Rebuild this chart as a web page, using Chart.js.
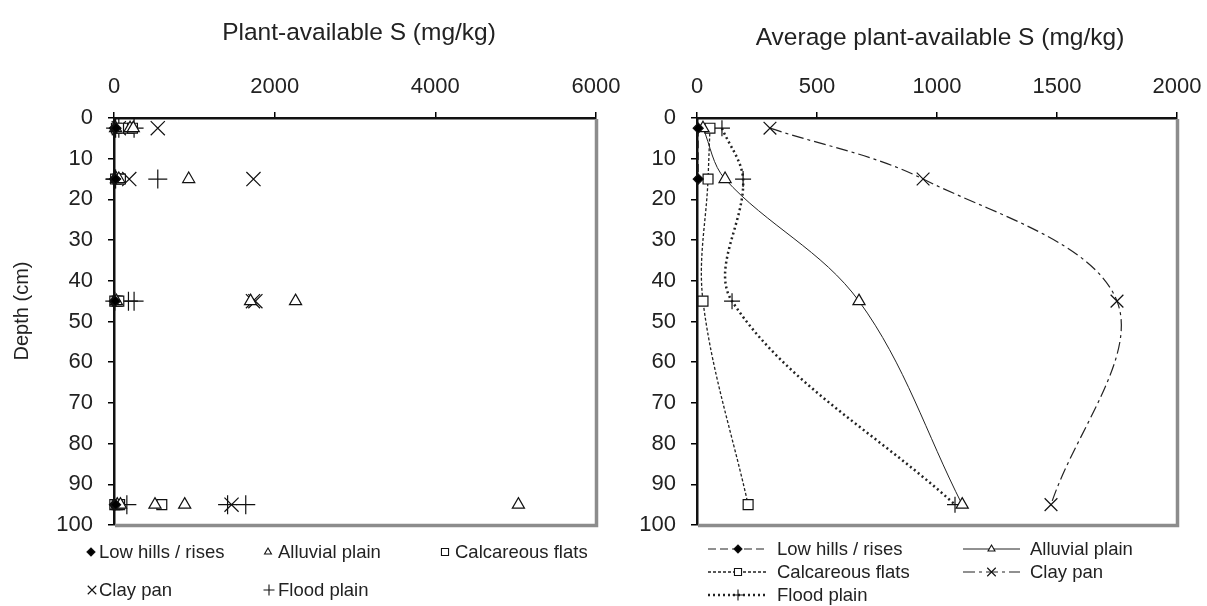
<!DOCTYPE html>
<html>
<head>
<meta charset="utf-8">
<script src="https://cdn.jsdelivr.net/npm/chart.js@4.4.1/dist/chart.umd.min.js"></script>
<style>
  html, body { margin: 0; padding: 0; background: #fff; }
  #wrap { position: relative; width: 1207px; height: 606px; }
  .box { position: absolute; top: 0; height: 606px; }
  #left { left: 0; width: 640px; }
  #right { left: 603px; width: 604px; }
</style>
</head>
<body>
<div id="wrap">
  <div class="box" id="left"><canvas id="samples"></canvas></div>
  <div class="box" id="right"><canvas id="averages"></canvas></div>
</div>
<script>
// sampling depths (cm)
const depths = [2.5, 15, 45, 95];

// individual samples: [depth, S mg/kg]
const lowHillsPts = [[2.5, 5], [2.5, 15], [2.5, 25], [15, 5], [15, 12], [15, 20], [45, 5], [45, 15], [95, 5], [95, 12], [95, 20]];
const alluvialPts = [[2.5, 20], [2.5, 200], [2.5, 240], [15, 30], [15, 60], [15, 930], [45, 30], [45, 1700], [45, 2260], [95, 40], [95, 80], [95, 510], [95, 880], [95, 5034]];
const calcareousPts = [[2.5, 30], [2.5, 80], [2.5, 180], [2.5, 230], [15, 20], [15, 50], [15, 80], [45, 10], [45, 40], [45, 60], [95, 10], [95, 40], [95, 70], [95, 595]];
const clayPanPts = [[2.5, 60], [2.5, 545], [15, 190], [15, 1736], [45, 1760], [45, 1730], [95, 1463]];
const floodPlainPts = [[2.5, 20], [2.5, 60], [2.5, 250], [15, 10], [15, 20], [15, 545], [45, 10], [45, 180], [45, 250], [95, 160], [95, 1414], [95, 1640]];

// averages, one per depth
const lowHillsAvg = [5, 5];
const alluvialAvg = [25, 117, 675, 1105];
const calcareousAvg = [54, 46, 25, 213];
const clayPanAvg = [304, 942, 1750, 1475];
const floodPlainAvg = [104, 192, 146, 1075];

const FONT = "'Liberation Sans', Arial, sans-serif";

const series = [
  { name: 'Low hills / rises', pts: lowHillsPts, avg: lowHillsAvg, style: 'rectRot', r: 5, ar: 5, lr: 4, fill: '#000', dash: [8, 4], lw: 1.2 },
  { name: 'Alluvial plain', pts: alluvialPts, avg: alluvialAvg, style: 'triangle', r: 7, ar: 7, lr: 4, fill: '#fff', dash: [], lw: 1 },
  { name: 'Calcareous flats', pts: calcareousPts, avg: calcareousAvg, style: 'rect', r: 7, ar: 7, lr: 5, fill: '#fff', dash: [3, 2], lw: 1.3 },
  { name: 'Clay pan', pts: clayPanPts, avg: clayPanAvg, style: 'crossRot', r: 10, ar: 9, lr: 6, fill: '#fff', dash: [12, 4, 3, 4], lw: 1.2 },
  { name: 'Flood plain', pts: floodPlainPts, avg: floodPlainAvg, style: 'cross', r: 9.5, ar: 8, lr: 5.5, fill: '#fff', dash: [2, 3], lw: 2.5 }
];

function axes(xMax, xStep, yWidth) {
  const tickFont = { family: FONT, size: 22 };
  const noPad = s => { s.paddingLeft = 0; s.paddingRight = 0; s.paddingTop = 0; s.paddingBottom = 0; };
  return {
    x: {
      type: 'linear', position: 'top', min: 0, max: xMax,
      ticks: { stepSize: xStep, color: '#222', font: tickFont, padding: 12, maxRotation: 0, callback: v => String(v) },
      grid: { drawOnChartArea: false, drawTicks: true, tickLength: 6, color: '#000', lineWidth: 1.5 },
      border: { color: '#111', width: 2.5 },
      afterFit: s => { s.height = 118; noPad(s); }
    },
    y: {
      type: 'linear', reverse: true, min: 0, max: 100,
      ticks: { stepSize: 10, color: '#222', font: tickFont, padding: 15, callback: v => String(v) },
      grid: { drawOnChartArea: false, drawTicks: true, tickLength: 6, color: '#000', lineWidth: 1.5 },
      border: { color: '#111', width: 2.5 },
      afterFit: s => { s.width = yWidth; noPad(s); }
    }
  };
}

function marker(ctx, s, x, y, r) {
  ctx.save();
  ctx.setLineDash([]);
  ctx.fillStyle = s.fill;
  ctx.strokeStyle = '#111';
  ctx.lineWidth = 1.1;
  Chart.helpers.drawPoint(ctx, { pointStyle: s.style, radius: r, rotation: 0, borderWidth: 1.1 }, x, y);
  ctx.restore();
}

// gray right/bottom frame, titles and the hand-placed legends
const decor = {
  id: 'decor',
  afterDraw(chart, args, o) {
    const { ctx, chartArea: a } = chart;
    ctx.save();
    ctx.strokeStyle = '#8c8c8c';
    ctx.lineWidth = 3.5;
    ctx.beginPath();
    ctx.moveTo(a.left + 1, a.bottom + 0.5);
    ctx.lineTo(a.right + 0.5, a.bottom + 0.5);
    ctx.lineTo(a.right + 0.5, a.top + 1);
    ctx.stroke();

    ctx.fillStyle = '#222';
    ctx.textAlign = 'center';
    ctx.textBaseline = 'middle';
    ctx.font = '24.5px ' + FONT;
    ctx.fillText(o.title, o.titleX, o.titleY);
    if (o.yTitle) {
      ctx.save();
      ctx.font = '20px ' + FONT;
      ctx.translate(22, 311);
      ctx.rotate(-Math.PI / 2);
      ctx.fillText(o.yTitle, 0, 0);
      ctx.restore();
    }

    ctx.font = '18.5px ' + FONT;
    ctx.textAlign = 'left';
    o.items.forEach((it, i) => {
      const s = series[i];
      if (it.x1 !== undefined) {
        ctx.save();
        ctx.strokeStyle = '#222';
        ctx.lineWidth = s.lw;
        ctx.setLineDash(s.dash);
        ctx.beginPath();
        ctx.moveTo(it.x1, it.y);
        ctx.lineTo(it.x2, it.y);
        ctx.stroke();
        ctx.restore();
        marker(ctx, s, (it.x1 + it.x2) / 2, it.y, s.lr);
      } else {
        marker(ctx, s, it.mx, it.y, s.lr);
      }
      ctx.fillStyle = '#222';
      ctx.fillText(s.name, it.tx, it.y + 1);
    });
    ctx.restore();
  }
};

new Chart(document.getElementById('samples'), {
  type: 'scatter',
  data: {
    datasets: series.map(s => ({
      label: s.name,
      data: s.pts.map(p => ({ x: p[1], y: p[0] })),
      pointStyle: s.style, pointRadius: s.r, pointHoverRadius: s.r,
      pointBackgroundColor: s.fill, pointBorderColor: '#111', pointBorderWidth: 1.2,
      clip: false
    }))
  },
  options: {
    responsive: true, maintainAspectRatio: false, animation: false,
    layout: { padding: { left: 0, right: 44, top: 0, bottom: 81 } },
    scales: axes(6000, 2000, 114),
    plugins: {
      legend: { display: false }, tooltip: { enabled: false },
      decor: {
        title: 'Plant-available S (mg/kg)', titleX: 359, titleY: 33, yTitle: 'Depth (cm)',
        items: [
          { mx: 91, tx: 99, y: 552 },
          { mx: 268, tx: 278, y: 552 },
          { mx: 445, tx: 455, y: 552 },
          { mx: 92, tx: 99, y: 590 },
          { mx: 269, tx: 278, y: 590 }
        ]
      }
    }
  },
  plugins: [decor]
});

new Chart(document.getElementById('averages'), {
  type: 'scatter',
  data: {
    datasets: series.map(s => ({
      label: s.name,
      data: s.avg.map((v, i) => ({ x: v, y: depths[i] })),
      showLine: true, tension: 0.35,
      borderColor: '#222', borderWidth: s.lw, borderDash: s.dash,
      pointStyle: s.style, pointRadius: s.ar, pointHoverRadius: s.ar,
      pointBackgroundColor: s.fill, pointBorderColor: '#111', pointBorderWidth: 1.2,
      clip: false
    }))
  },
  options: {
    responsive: true, maintainAspectRatio: false, animation: false,
    layout: { padding: { left: 0, right: 30, top: 0, bottom: 81 } },
    scales: axes(2000, 500, 94),
    plugins: {
      legend: { display: false }, tooltip: { enabled: false },
      decor: {
        title: 'Average plant-available S (mg/kg)', titleX: 337, titleY: 38,
        items: [
          { x1: 105, x2: 165, tx: 174, y: 549 },
          { x1: 360, x2: 417, tx: 427, y: 549 },
          { x1: 105, x2: 165, tx: 174, y: 572 },
          { x1: 360, x2: 417, tx: 427, y: 572 },
          { x1: 105, x2: 165, tx: 174, y: 595 }
        ]
      }
    }
  },
  plugins: [decor]
});
</script>
</body>
</html>
